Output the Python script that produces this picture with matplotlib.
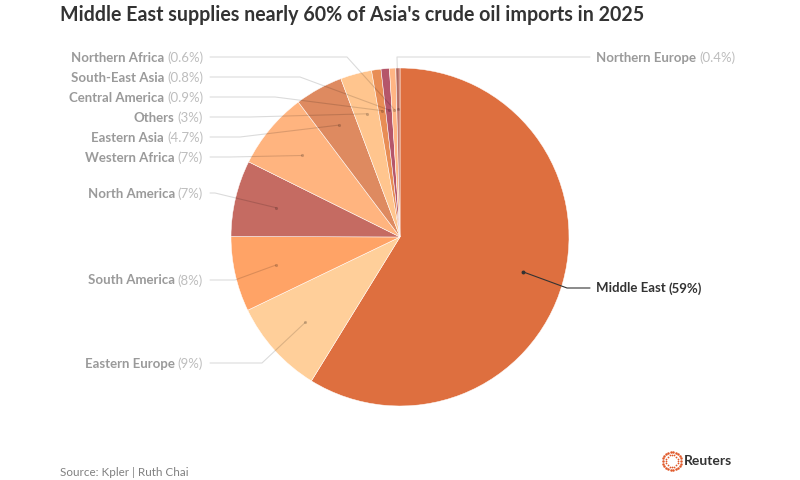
import numpy as np
import matplotlib
matplotlib.use("Agg")
import matplotlib.pyplot as plt

FONT = "Lato"
plt.rcParams["font.family"] = FONT

categories = ["Middle East", "Eastern Europe", "South America", "North America",
              "Western Africa", "Eastern Asia", "Others", "Central America",
              "South-East Asia", "Northern Africa", "Northern Europe"]
values = [58.9, 9.1, 7.2, 7.3, 7.4, 4.6, 3.0, 0.9, 0.8, 0.6, 0.4]
value_labels = ["59%", "9%", "8%", "7%", "7%", "4.7%", "3%", "0.9%", "0.8%", "0.6%", "0.4%"]
colors = ["#DE6F3F", "#FFCF9A", "#FFA366", "#C56B62", "#FFB47F", "#DE8A60",
          "#FFC58E", "#E88D55", "#B5566A", "#FFB584", "#C77B70"]

H = 480
CX, CY, R = 400, H - 237, 169

# label rows (pixels from top) and leader elbow x
label_y = [288, 363, 280, 193, 157, 137, 117, 97, 77, 57, 57]
elbow_x = [567, 262, 235, 215, 230, 240, 250, 275, 300, 347, 397]

fig = plt.figure(figsize=(8, 4.8), dpi=100, facecolor="white")
ax = fig.add_axes([0, 0, 1, 1])
wedges, _ = ax.pie(values, colors=colors, startangle=90, counterclock=False,
                   center=(CX, CY), radius=R,
                   wedgeprops=dict(edgecolor="#FFFFFF", linewidth=0.35))
ax.set_xlim(0, 800)
ax.set_ylim(0, H)
ax.set_aspect("equal")
ax.axis("off")

fig.canvas.draw()
renderer = fig.canvas.get_renderer()

for i, w in enumerate(wedges):
    theta = np.deg2rad((w.theta1 + w.theta2) / 2)
    dx = CX + 0.755 * R * np.cos(theta)
    dy = CY + 0.755 * R * np.sin(theta)
    ly = H - label_y[i]
    right = i == 0 or categories[i] == "Northern Europe"
    xs = 590 if right else 210
    main = i == 0
    lc = "#333333" if main else "black"
    la = 1 if main else 0.14
    ax.plot([xs, elbow_x[i], dx], [ly, ly, dy], color=lc, alpha=la, lw=0.8,
            solid_capstyle="round", zorder=5)
    ax.scatter([dx], [dy], s=8 if main else 5, color="#333333" if main else "#000000",
               alpha=1 if main else 0.2, linewidths=0, zorder=6)

    name_c = "#333333" if main else "#9A9A9A"
    val_c = "#333333" if main else "#BDBDBD"
    val_w = "bold" if main else "normal"
    ty = ly - 0.5
    if right:
        t = ax.text(596, ty, categories[i], fontsize=9.5, fontweight="bold", color=name_c,
                    ha="left", va="center")
        bb = t.get_window_extent(renderer)
        ax.text(bb.x1 + 3, ty, f"({value_labels[i]})", fontsize=9.5, fontweight=val_w,
                color=val_c, ha="left", va="center")
    else:
        t = ax.text(203, ty, f"({value_labels[i]})", fontsize=9.5, fontweight=val_w,
                    color=val_c, ha="right", va="center")
        bb = t.get_window_extent(renderer)
        ax.text(bb.x0 - 3, ty, categories[i], fontsize=9.5, fontweight="bold", color=name_c,
                ha="right", va="center")

ax.text(60.5, H - 15, "Middle East supplies nearly 60% of Asia's crude oil imports in 2025",
        fontsize=14.1, fontweight="bold", color="#333333", ha="left", va="center")
ax.text(60, H - 473, "Source: Kpler | Ruth Chai", fontsize=8.4, color="#808080",
        ha="left", va="center")

# Reuters logo
lx, ly = 672, H - 461
for r, n, s in [(9, 22, 3.2), (6, 16, 1.6)]:
    a = np.linspace(0, 2 * np.pi, n, endpoint=False)
    ax.scatter(lx + r * np.cos(a), ly + r * np.sin(a), s=s, color="#E0592A", linewidths=0)
ax.text(684, ly, "Reuters", fontsize=10, fontweight="bold", color="#333333",
        ha="left", va="center")

fig.savefig("out.png", dpi=100)
